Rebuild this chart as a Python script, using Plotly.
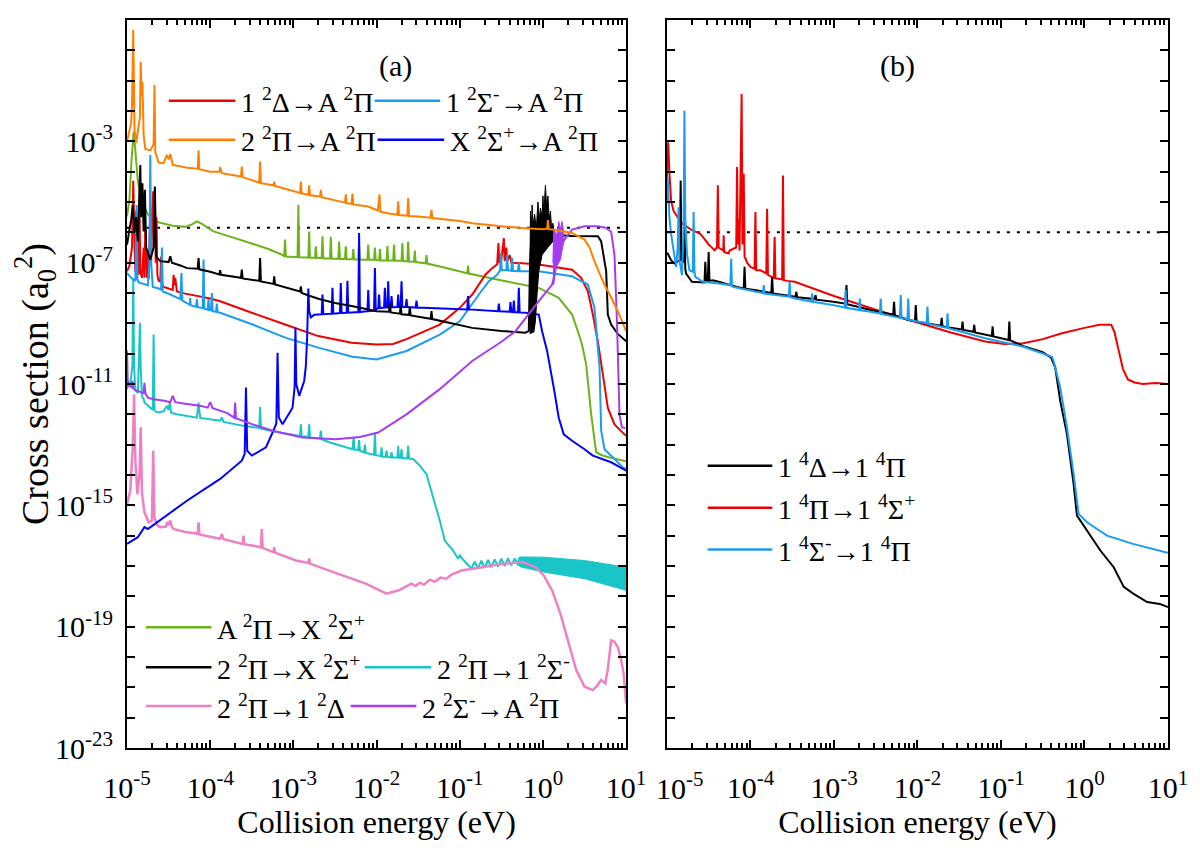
import numpy as np
import plotly.graph_objects as go
from plotly.subplots import make_subplots

# values, stored as (log10 E/eV, log10 sigma/a0^2)

# ---------------- panel (a) ----------------
orange_a = [(-5.0, -3.0), (-4.95, -2.4), (-4.94, -1.8), (-4.925, 0.68), (-4.91, -2.6), (-4.89, -3.05),
            (-4.845, -2.2), (-4.835, -0.38), (-4.825, -1.5), (-4.815, -1.04), (-4.80, -2.8), (-4.78, -3.25),
            (-4.72, -3.3), (-4.68, -3.1), (-4.67, -1.14), (-4.66, -3.35), (-4.62, -3.7), (-4.56, -3.72),
            (-4.52, -3.45), (-4.50, -3.6), (-4.48, -3.42), (-4.45, -3.78), (-4.35, -3.83), (-4.28, -3.87),
            (-4.15, -3.9), (-4.14, -3.3), (-4.13, -3.92), (-4.0, -4.0), (-3.89, -4.0), (-3.88, -3.85),
            (-3.86, -4.05), (-3.63, -4.16), (-3.62, -3.83), (-3.61, -4.18), (-3.41, -4.36), (-3.40, -3.67),
            (-3.39, -4.38), (-3.24, -4.45), (-3.23, -4.33), (-3.22, -4.47), (-2.92, -4.7), (-2.91, -4.33),
            (-2.90, -4.72), (-2.82, -4.76), (-2.81, -4.45), (-2.80, -4.78), (-2.68, -4.82), (-2.67, -4.6),
            (-2.66, -4.84), (-2.38, -5.02), (-2.37, -4.75), (-2.36, -5.04), (-2.30, -5.06), (-2.29, -4.72),
            (-2.28, -5.08), (-2.10, -5.15), (-1.985, -5.28), (-1.965, -4.75), (-1.955, -5.32), (-1.85, -5.38),
            (-1.75, -5.42), (-1.74, -4.98), (-1.73, -5.43), (-1.63, -5.45), (-1.62, -4.87), (-1.61, -5.46),
            (-1.5, -5.48), (-1.35, -5.52), (-1.34, -5.26), (-1.33, -5.53), (-1.0, -5.63), (-0.85, -5.70),
            (-0.5, -5.80), (-0.25, -5.86), (0.0, -5.9), (0.05, -5.88), (0.06, -5.6), (0.07, -5.9),
            (0.12, -5.91), (0.2, -5.95), (0.35, -6.02), (0.5, -6.24), (0.56, -6.5), (0.62, -6.96),
            (0.68, -7.35), (0.74, -7.72), (0.82, -8.15), (0.9, -8.6), (1.0, -9.26)]

green_a = [(-5.0, -5.48), (-4.97, -4.9), (-4.945, -3.6), (-4.92, -2.68), (-4.90, -3.3), (-4.87, -4.3),
           (-4.83, -4.93), (-4.75, -5.4), (-4.67, -5.64), (-4.55, -5.72), (-4.45, -5.78), (-4.30, -5.82),
           (-4.22, -5.74), (-4.16, -5.64), (-4.10, -5.72), (-3.96, -5.97), (-3.75, -6.15), (-3.52, -6.35),
           (-3.3, -6.55), (-3.12, -6.76), (-3.11, -6.8), (-3.10, -6.24), (-3.09, -6.8), (-2.95, -6.82),
           (-2.94, -5.09), (-2.93, -6.82), (-2.82, -6.83), (-2.81, -5.97), (-2.80, -6.84), (-2.74, -6.84),
           (-2.73, -6.46), (-2.72, -6.85), (-2.66, -6.85), (-2.65, -6.13), (-2.64, -6.86), (-2.56, -6.86),
           (-2.55, -6.15), (-2.54, -6.87), (-2.46, -6.87), (-2.45, -6.30), (-2.44, -6.88), (-2.38, -6.88),
           (-2.37, -6.46), (-2.36, -6.89), (-2.29, -6.89), (-2.28, -6.55), (-2.27, -6.89), (-2.22, -6.9),
           (-2.21, -6.35), (-2.20, -6.9), (-2.11, -6.9), (-2.10, -6.4), (-2.09, -6.9), (-2.03, -6.9),
           (-2.02, -6.5), (-2.01, -6.9), (-1.97, -6.92), (-1.96, -6.55), (-1.95, -6.92), (-1.88, -6.93),
           (-1.87, -6.45), (-1.86, -6.93), (-1.80, -6.93), (-1.79, -6.40), (-1.78, -6.94), (-1.70, -6.94),
           (-1.69, -6.35), (-1.68, -6.95), (-1.63, -6.95), (-1.62, -6.3), (-1.61, -6.96), (-1.55, -6.97),
           (-1.54, -6.6), (-1.53, -6.98), (-1.41, -7.02), (-1.40, -6.75), (-1.39, -7.03), (-1.2, -7.15),
           (-0.91, -7.35), (-0.90, -7.1), (-0.89, -7.36), (-0.45, -7.61), (-0.05, -7.83), (0.19, -8.16),
           (0.35, -8.71), (0.42, -9.26), (0.47, -9.7), (0.52, -10.35), (0.58, -12.0), (0.64, -13.25),
           (0.7, -13.34), (0.8, -13.42), (1.0, -13.55)]

black_a = [(-5.0, -6.41), (-4.97, -5.9), (-4.95, -5.6), (-4.93, -5.1), (-4.91, -6.0), (-4.89, -5.5),
           (-4.87, -6.3), (-4.855, -5.0), (-4.84, -3.78), (-4.83, -5.5), (-4.815, -4.38), (-4.80, -5.97),
           (-4.785, -4.6), (-4.77, -6.5), (-4.72, -6.9), (-4.68, -6.5), (-4.665, -4.49), (-4.65, -6.8),
           (-4.60, -6.95), (-4.56, -6.96), (-4.50, -6.98), (-4.48, -6.79), (-4.46, -7.0), (-4.35, -7.1),
           (-4.28, -7.18), (-4.15, -7.2), (-4.14, -6.85), (-4.13, -7.22), (-4.0, -7.3), (-3.89, -7.39),
           (-3.88, -7.25), (-3.87, -7.4), (-3.63, -7.5), (-3.62, -7.23), (-3.61, -7.52), (-3.41, -7.6),
           (-3.40, -6.85), (-3.39, -7.62), (-3.24, -7.7), (-3.23, -7.45), (-3.22, -7.72), (-2.92, -7.95),
           (-2.91, -7.78), (-2.90, -8.0), (-2.8, -8.1), (-2.69, -8.2), (-2.5, -8.33), (-2.3, -8.43),
           (-2.0, -8.6), (-1.85, -8.62), (-1.84, -8.33), (-1.83, -8.64), (-1.72, -8.68), (-1.71, -8.4),
           (-1.70, -8.7), (-1.61, -8.72), (-1.60, -8.45), (-1.59, -8.74), (-1.35, -8.85), (-1.34, -8.6),
           (-1.33, -8.86), (-0.85, -9.15), (-0.5, -9.25), (-0.21, -9.31), (-0.17, -9.25), (-0.155, -7.0),
           (-0.14, -6.2), (0.0, -6.0), (0.12, -6.05), (0.15, -6.09), (0.35, -6.12), (0.66, -6.13),
           (0.70, -6.3), (0.76, -7.28), (0.78, -8.71), (0.82, -9.04), (0.9, -9.35), (1.0, -9.59)]

black_band_a = [(-0.155, -9.35), (-0.155, -7.0), (-0.15, -5.3), (-0.14, -6.0), (-0.13, -5.1), (-0.12, -5.8),
                (-0.10, -5.4), (-0.08, -5.9), (-0.06, -5.0), (-0.045, -5.6), (-0.03, -5.2), (-0.01, -5.5),
                (0.0, -4.8), (0.01, -5.4), (0.03, -4.45), (0.045, -5.2), (0.06, -4.8), (0.075, -5.6),
                (0.09, -5.3), (0.105, -5.9), (0.12, -5.7), (0.135, -6.0), (0.135, -6.25), (0.07, -6.46),
                (-0.01, -6.74), (-0.05, -7.28), (-0.07, -8.0), (-0.09, -8.93), (-0.11, -9.3)]

red_a = [(-5.0, -7.28), (-4.97, -7.1), (-4.94, -6.5), (-4.925, -4.3), (-4.91, -6.4), (-4.90, -7.3),
         (-4.89, -5.3), (-4.88, -7.2), (-4.87, -6.0), (-4.86, -7.4), (-4.85, -5.1), (-4.84, -7.3),
         (-4.82, -7.5), (-4.80, -6.5), (-4.79, -7.5), (-4.78, -5.8), (-4.76, -7.5), (-4.75, -6.6),
         (-4.74, -7.55), (-4.72, -5.2), (-4.71, -7.0), (-4.70, -5.6), (-4.685, -4.65), (-4.675, -6.5),
         (-4.665, -4.6), (-4.655, -7.0), (-4.645, -5.5), (-4.635, -7.4), (-4.62, -7.6), (-4.60, -7.62),
         (-4.59, -6.8), (-4.58, -7.7), (-4.56, -7.8), (-4.50, -7.85), (-4.45, -7.9), (-4.44, -7.4),
         (-4.43, -7.75), (-4.42, -7.5), (-4.40, -7.95), (-4.30, -8.02), (-4.0, -8.18), (-3.88, -8.27),
         (-3.5, -8.65), (-3.1, -9.04), (-2.7, -9.42), (-2.3, -9.64), (-2.0, -9.70), (-1.8, -9.68),
         (-1.64, -9.52), (-1.24, -9.04), (-1.0, -8.49), (-0.85, -8.05), (-0.69, -7.39), (-0.61, -7.18),
         (-0.55, -7.05), (-0.535, -6.35), (-0.525, -7.0), (-0.50, -6.9), (-0.47, -6.19), (-0.46, -6.95),
         (-0.44, -6.5), (-0.43, -6.95), (-0.40, -6.75), (-0.38, -7.0), (-0.29, -7.01), (-0.05, -7.06),
         (0.35, -7.23), (0.46, -7.5), (0.54, -7.94), (0.60, -8.71), (0.66, -9.6), (0.72, -10.68),
         (0.78, -11.78), (0.86, -12.33), (0.98, -12.66), (1.0, -12.7)]

ltblue_a = [(-5.0, -7.34), (-4.95, -7.5), (-4.90, -7.6), (-4.885, -5.1), (-4.875, -7.55), (-4.86, -7.65),
            (-4.80, -7.7), (-4.75, -7.75), (-4.73, -7.0), (-4.72, -3.45), (-4.71, -7.0), (-4.69, -7.8),
            (-4.62, -7.85), (-4.59, -7.9), (-4.58, -6.5), (-4.57, -7.95), (-4.48, -8.05), (-4.36, -8.2),
            (-4.345, -7.34), (-4.335, -8.25), (-4.28, -8.33), (-4.245, -8.38), (-4.24, -8.16), (-4.235, -8.4),
            (-4.17, -8.45), (-4.16, -8.2), (-4.15, -8.47), (-4.09, -8.5), (-4.08, -6.9), (-4.07, -8.52),
            (-4.03, -8.55), (-4.02, -8.2), (-4.01, -8.56), (-3.99, -8.57), (-3.98, -8.0), (-3.97, -8.6),
            (-3.93, -8.62), (-3.92, -8.35), (-3.91, -8.63), (-3.88, -8.65), (-3.49, -9.04), (-3.09, -9.48),
            (-2.69, -9.81), (-2.29, -10.1), (-2.0, -10.19), (-1.64, -9.91), (-1.24, -9.37), (-1.0, -8.93),
            (-0.77, -8.05), (-0.65, -7.61), (-0.55, -7.4), (-0.515, -7.25), (-0.505, -6.68), (-0.495, -7.25),
            (-0.44, -7.25), (-0.43, -6.74), (-0.42, -7.25), (-0.38, -7.27), (-0.37, -6.85), (-0.36, -7.27),
            (-0.30, -7.28), (-0.29, -7.0), (-0.28, -7.28), (-0.05, -7.28), (0.35, -7.45), (0.54, -7.72),
            (0.62, -8.49), (0.66, -9.8), (0.68, -10.4), (0.70, -12.54), (0.74, -13.15), (0.86, -13.47),
            (0.96, -13.75), (1.0, -13.8)]

blue_a = [(-5.0, -16.27), (-4.87, -16.05), (-4.79, -15.72), (-4.75, -15.78), (-4.28, -14.85), (-3.88, -14.13),
          (-3.62, -13.53), (-3.585, -13.3), (-3.57, -11.12), (-3.555, -13.2), (-3.50, -13.36), (-3.33, -13.09),
          (-3.25, -12.6), (-3.205, -12.3), (-3.19, -9.97), (-3.175, -12.1), (-3.13, -12.33), (-3.01, -11.78),
          (-2.985, -11.1), (-2.975, -9.15), (-2.965, -11.0), (-2.93, -11.39), (-2.87, -10.9), (-2.85, -10.4),
          (-2.835, -9.5), (-2.82, -7.85), (-2.81, -8.6), (-2.79, -8.8), (-2.75, -8.72), (-2.66, -8.7),
          (-2.65, -8.05), (-2.64, -8.7), (-2.54, -8.68), (-2.53, -7.83), (-2.52, -8.68), (-2.44, -8.66),
          (-2.43, -7.67), (-2.42, -8.66), (-2.36, -8.65), (-2.35, -7.6), (-2.34, -8.65), (-2.22, -8.63),
          (-2.21, -6.02), (-2.20, -8.63), (-2.11, -8.6), (-2.10, -7.9), (-2.09, -8.6), (-2.03, -8.58),
          (-2.02, -7.18), (-2.01, -8.55), (-1.98, -8.5), (-1.97, -8.05), (-1.96, -8.5), (-1.91, -8.48),
          (-1.90, -7.83), (-1.89, -8.48), (-1.87, -8.48), (-1.86, -7.61), (-1.85, -8.47), (-1.83, -8.47),
          (-1.82, -8.1), (-1.81, -8.47), (-1.75, -8.46), (-1.74, -8.05), (-1.73, -8.46), (-1.71, -8.46),
          (-1.70, -7.61), (-1.69, -8.46), (-1.65, -8.46), (-1.64, -8.2), (-1.63, -8.46), (-1.53, -8.48),
          (-1.52, -8.25), (-1.51, -8.48), (-0.91, -8.54), (-0.90, -8.10), (-0.89, -8.54), (-0.54, -8.6),
          (-0.53, -8.35), (-0.52, -8.6), (-0.40, -8.62), (-0.39, -8.3), (-0.38, -8.62), (-0.36, -8.63),
          (-0.35, -8.25), (-0.34, -8.63), (-0.30, -8.64), (-0.29, -7.83), (-0.28, -8.64), (-0.21, -8.65),
          (-0.05, -8.71), (-0.01, -9.26), (0.05, -9.91), (0.13, -11.12), (0.19, -12.11), (0.25, -12.66),
          (0.35, -12.87), (0.50, -13.15), (0.60, -13.36), (0.82, -13.58), (1.0, -13.86)]

purple_a = [(-5.0, -9.9), (-4.995, -10.5), (-4.99, -11.06), (-4.95, -11.1), (-4.935, -10.9), (-4.925, -11.15),
            (-4.9, -11.2), (-4.85, -11.25), (-4.80, -11.3), (-4.79, -10.96), (-4.78, -11.3), (-4.75, -11.45),
            (-4.68, -11.5), (-4.55, -11.55), (-4.48, -11.6), (-4.45, -11.39), (-4.42, -11.6), (-4.3, -11.65),
            (-4.12, -11.72), (-4.03, -11.78), (-4.0, -11.6), (-3.97, -11.8), (-3.8, -11.95), (-3.71, -12.11),
            (-3.70, -11.61), (-3.69, -12.13), (-3.49, -12.33), (-3.25, -12.54), (-2.89, -12.76), (-2.49, -12.82),
            (-2.2, -12.75), (-1.98, -12.6), (-1.64, -12.0), (-1.24, -11.17), (-0.85, -10.24), (-0.49, -9.59),
            (-0.33, -9.26), (-0.05, -8.27), (0.11, -7.72), (0.13, -7.5), (0.17, -6.8), (0.22, -6.4),
            (0.27, -6.2), (0.35, -5.91), (0.50, -5.80), (0.66, -5.80), (0.75, -5.85), (0.82, -5.98),
            (0.86, -6.74), (0.89, -8.93), (0.92, -12.0), (0.95, -12.43), (0.99, -12.45)]

purple_band_a = [(0.12, -7.0), (0.13, -5.9), (0.15, -6.0), (0.17, -6.1), (0.19, -5.64), (0.21, -5.9),
                 (0.23, -5.64), (0.25, -6.0), (0.25, -6.3), (0.23, -6.6), (0.21, -6.9), (0.19, -7.0),
                 (0.17, -7.1), (0.15, -7.3), (0.13, -7.72), (0.12, -7.7)]

teal_a = [(-5.0, -11.17), (-4.99, -10.9), (-4.96, -11.0), (-4.935, -10.4), (-4.925, -7.55), (-4.915, -10.4),
          (-4.90, -11.2), (-4.87, -11.3), (-4.855, -10.0), (-4.845, -8.98), (-4.835, -10.5), (-4.82, -11.4),
          (-4.80, -11.5), (-4.79, -11.61), (-4.70, -11.83), (-4.69, -11.85), (-4.68, -9.37), (-4.67, -11.88),
          (-4.63, -11.94), (-4.56, -11.9), (-4.52, -11.72), (-4.50, -11.85), (-4.485, -11.61), (-4.47, -11.95),
          (-4.40, -12.0), (-4.16, -12.11), (-4.14, -11.61), (-4.12, -12.12), (-3.88, -12.21), (-3.86, -12.1),
          (-3.84, -12.25), (-3.60, -12.38), (-3.41, -12.45), (-3.40, -11.76), (-3.39, -12.47), (-3.17, -12.60),
          (-2.92, -12.71), (-2.91, -12.33), (-2.90, -12.72), (-2.82, -12.74), (-2.81, -12.33), (-2.80, -12.76),
          (-2.68, -12.8), (-2.67, -12.54), (-2.66, -12.82), (-2.57, -12.92), (-2.29, -13.15), (-2.275, -12.74),
          (-2.265, -13.16), (-2.22, -13.17), (-2.21, -12.85), (-2.20, -13.2), (-2.15, -13.25), (-2.14, -13.0),
          (-2.13, -13.27), (-2.03, -13.33), (-2.02, -12.6), (-2.01, -13.35), (-1.95, -13.38), (-1.94, -13.09),
          (-1.93, -13.4), (-1.89, -13.4), (-1.88, -13.2), (-1.87, -13.41), (-1.83, -13.42), (-1.82, -13.25),
          (-1.81, -13.42), (-1.75, -13.42), (-1.74, -13.04), (-1.73, -13.43), (-1.71, -13.43), (-1.70, -13.15),
          (-1.69, -13.44), (-1.63, -13.45), (-1.62, -13.04), (-1.61, -13.46), (-1.56, -13.47), (-1.48, -13.69),
          (-1.40, -13.97), (-1.32, -14.74), (-1.24, -15.50), (-1.18, -16.16), (-1.08, -16.49), (-1.02, -16.76),
          (-1.0, -16.65), (-0.95, -16.82), (-0.86, -17.08), (-0.82, -16.86), (-0.78, -17.08), (-0.74, -16.82),
          (-0.70, -17.06), (-0.66, -16.8), (-0.62, -17.04), (-0.58, -16.78), (-0.54, -17.02), (-0.50, -16.76),
          (-0.46, -17.0), (-0.42, -16.75), (-0.38, -16.98), (-0.34, -16.75), (-0.30, -16.96), (0.0, -16.95),
          (0.5, -17.1), (1.0, -17.4)]

teal_band_a = [(-0.32, -16.9), (-0.28, -16.7), (0.01, -16.71), (0.5, -16.82), (1.0, -17.04), (1.0, -17.8),
               (0.5, -17.42), (0.01, -17.2), (-0.28, -17.02)]

pink_a = [(-5.0, -14.96), (-4.96, -14.5), (-4.93, -13.0), (-4.915, -11.34), (-4.90, -13.5), (-4.875, -14.63),
          (-4.85, -14.0), (-4.835, -12.43), (-4.82, -14.6), (-4.79, -15.23), (-4.74, -15.56), (-4.70, -15.5),
          (-4.685, -13.2), (-4.67, -15.4), (-4.64, -15.65), (-4.60, -15.72), (-4.53, -15.7), (-4.52, -15.55),
          (-4.50, -15.65), (-4.48, -15.50), (-4.46, -15.72), (-4.44, -15.78), (-4.30, -15.88), (-4.15, -15.94),
          (-4.14, -15.56), (-4.13, -15.96), (-3.88, -16.10), (-3.86, -15.95), (-3.84, -16.12), (-3.61, -16.27),
          (-3.60, -16.0), (-3.59, -16.28), (-3.39, -16.38), (-3.38, -15.78), (-3.37, -16.4), (-3.24, -16.54),
          (-3.23, -16.38), (-3.22, -16.56), (-2.97, -16.82), (-2.82, -16.9), (-2.81, -16.75), (-2.80, -16.92),
          (-2.47, -17.25), (-2.13, -17.58), (-1.88, -17.91), (-1.80, -17.85), (-1.73, -17.80), (-1.66, -17.7),
          (-1.58, -17.58), (-1.53, -17.66), (-1.48, -17.55), (-1.43, -17.62), (-1.36, -17.45), (-1.30, -17.52),
          (-1.23, -17.38), (-1.16, -17.42), (-1.10, -17.28), (-0.98, -17.15), (-0.73, -17.04), (-0.49, -16.93),
          (-0.24, -16.87), (-0.09, -17.04), (0.01, -17.31), (0.11, -17.80), (0.21, -18.57), (0.30, -19.45),
          (0.40, -20.43), (0.50, -20.98), (0.60, -21.09), (0.65, -20.95), (0.70, -20.76), (0.75, -20.87),
          (0.78, -20.4), (0.82, -19.45), (0.86, -19.5), (0.90, -19.67), (0.94, -20.1), (0.97, -20.54),
          (1.0, -21.53)]

dotted_a = [(-5.0, -5.85), (1.0, -5.85)]

# ---------------- panel (b) ----------------
red_b = [(-5.0, -4.2), (-4.985, -3.03), (-4.97, -4.0), (-4.95, -4.95), (-4.92, -5.3), (-4.87, -5.5),
         (-4.82, -5.7), (-4.70, -5.93), (-4.60, -6.05), (-4.57, -6.15), (-4.50, -6.4), (-4.47, -6.48),
         (-4.43, -6.59), (-4.40, -6.5), (-4.39, -4.45), (-4.38, -6.5), (-4.36, -6.54), (-4.325, -6.6),
         (-4.32, -6.1), (-4.315, -6.65), (-4.26, -6.70), (-4.25, -6.6), (-4.17, -6.5), (-4.16, -3.85),
         (-4.15, -6.4), (-4.14, -5.55), (-4.13, -6.6), (-4.105, -1.44), (-4.095, -6.4), (-4.08, -4.07),
         (-4.07, -6.8), (-4.05, -6.92), (-4.04, -7.0), (-4.0, -7.14), (-3.95, -7.2), (-3.94, -5.33),
         (-3.93, -7.25), (-3.88, -7.25), (-3.81, -7.35), (-3.80, -5.22), (-3.79, -7.4), (-3.75, -7.47),
         (-3.72, -7.5), (-3.71, -6.15), (-3.70, -7.52), (-3.62, -7.55), (-3.61, -4.13), (-3.60, -7.58),
         (-3.56, -7.6), (-3.47, -7.63), (-3.0, -8.1), (-2.5, -8.55), (-2.10, -8.89), (-1.6, -9.3),
         (-1.19, -9.6), (-0.96, -9.68), (-0.73, -9.66), (-0.5, -9.52), (-0.27, -9.33), (0.0, -9.15),
         (0.18, -9.05), (0.32, -9.05), (0.36, -9.3), (0.41, -9.9), (0.46, -10.5), (0.52, -10.85),
         (0.6, -10.95), (0.7, -11.0), (0.85, -10.97), (1.0, -11.0)]

black_b = [(-5.0, -6.7), (-4.99, -6.70), (-4.95, -6.92), (-4.91, -7.03), (-4.845, -6.92), (-4.835, -4.29),
           (-4.825, -6.9), (-4.80, -7.0), (-4.79, -5.39), (-4.78, -7.2), (-4.77, -7.36), (-4.70, -7.63),
           (-4.55, -7.65), (-4.54, -6.97), (-4.53, -7.62), (-4.51, -7.6), (-4.50, -6.65), (-4.49, -7.6),
           (-4.45, -7.58), (-4.38, -7.63), (-4.16, -7.80), (-4.08, -7.85), (-4.07, -7.14), (-4.06, -7.86),
           (-3.93, -7.91), (-3.75, -8.0), (-3.74, -7.47), (-3.73, -8.02), (-3.46, -8.12), (-3.45, -7.96),
           (-3.44, -8.14), (-3.23, -8.2), (-3.22, -8.07), (-3.21, -8.22), (-3.01, -8.29), (-2.86, -8.35),
           (-2.85, -7.74), (-2.84, -8.37), (-2.56, -8.56), (-2.29, -8.72), (-2.28, -8.29), (-2.27, -8.74),
           (-2.10, -8.9), (-2.03, -8.92), (-2.02, -8.40), (-2.01, -8.94), (-1.72, -9.08), (-1.71, -8.82),
           (-1.70, -9.1), (-1.47, -9.2), (-1.46, -8.94), (-1.45, -9.22), (-1.33, -9.28), (-1.32, -9.05),
           (-1.31, -9.3), (-1.11, -9.42), (-1.10, -9.1), (-1.09, -9.43), (-0.91, -9.55), (-0.90, -8.94),
           (-0.89, -9.56), (-0.73, -9.75), (-0.5, -9.95), (-0.40, -10.13), (-0.35, -10.46), (-0.29, -11.56),
           (-0.21, -12.65), (-0.13, -14.3), (-0.09, -15.34), (0.03, -15.83), (0.19, -16.49), (0.35, -17.04),
           (0.47, -17.69), (0.58, -17.9), (0.75, -18.19), (0.90, -18.25), (1.0, -18.35)]

ltblue_b = [(-5.0, -5.0), (-4.99, -4.18), (-4.97, -5.5), (-4.95, -6.04), (-4.89, -7.14), (-4.87, -6.5),
            (-4.86, -5.17), (-4.85, -6.9), (-4.82, -7.41), (-4.80, -6.0), (-4.79, -1.99), (-4.78, -5.5),
            (-4.76, -6.70), (-4.73, -7.25), (-4.69, -7.3), (-4.68, -5.33), (-4.67, -7.3), (-4.66, -7.47),
            (-4.57, -7.63), (-4.38, -7.69), (-4.24, -7.74), (-4.23, -6.86), (-4.22, -7.78), (-4.20, -7.80),
            (-3.93, -7.96), (-3.85, -8.0), (-3.84, -7.74), (-3.83, -8.02), (-3.54, -8.12), (-3.53, -7.63),
            (-3.52, -8.14), (-3.47, -8.18), (-3.27, -8.28), (-3.26, -8.01), (-3.25, -8.29), (-3.01, -8.40),
            (-2.87, -8.48), (-2.86, -7.90), (-2.85, -8.49), (-2.70, -8.56), (-2.69, -8.18), (-2.68, -8.57),
            (-2.56, -8.62), (-2.45, -8.68), (-2.44, -8.18), (-2.43, -8.69), (-2.21, -8.82), (-2.20, -8.07),
            (-2.19, -8.83), (-2.12, -8.86), (-2.11, -8.18), (-2.10, -8.89), (-1.89, -9.0), (-1.88, -8.45),
            (-1.87, -9.01), (-1.65, -9.15), (-1.64, -8.67), (-1.63, -9.16), (-1.19, -9.49), (-0.73, -9.77),
            (-0.39, -10.10), (-0.37, -10.24), (-0.29, -11.12), (-0.21, -12.43), (-0.13, -13.97), (-0.07, -15.28),
            (0.03, -15.56), (0.27, -16.0), (0.58, -16.27), (0.96, -16.54), (1.0, -16.56)]

dotted_b = [(-5.0, -6.0), (1.0, -6.0)]

# tick labels
x_exps = list(range(-5, 2))
y_exps = list(range(-23, 2))
x_labels = ["10<sup>%d</sup>" % e for e in x_exps]
# the first label of panel (b) is set as a separate text just right of its tick,
# so that it clears the "10^1" of panel (a), as in the original
x_labels_b = [""] + x_labels[1:]
y_labels = ["10<sup>%d</sup>" % e if (1 - e) % 4 == 0 else "" for e in y_exps]

RED, LTBLUE, ORANGE, BLUE = "#f00000", "#1c9cf0", "#ff8000", "#0000ff"
GREEN, BLACK, TEAL, PINK, PURPLE = "#6db41c", "#000000", "#19c5c8", "#ee80c4", "#a33cf2"
FONT = "Liberation Serif"


def xy(pairs):
    lx, ly = zip(*pairs)
    return 10.0 ** np.array(lx), 10.0 ** np.array(ly)


fig = make_subplots(rows=1, cols=2)


def add_line(pairs, color, col, width=2.0, dash=None):
    x, y = xy(pairs)
    fig.add_trace(go.Scatter(x=x, y=y, mode="lines", showlegend=False, hoverinfo="skip",
                             line=dict(color=color, width=width, dash=dash, simplify=False)),
                  row=1, col=col)


def add_band(pairs, color, col):
    x, y = xy(pairs)
    fig.add_trace(go.Scatter(x=x, y=y, mode="lines", fill="toself", fillcolor=color, showlegend=False,
                             hoverinfo="skip", line=dict(color=color, width=1, simplify=False)),
                  row=1, col=col)


# panel (a)
add_line(dotted_a, BLACK, 1, width=2, dash="3px,7px")
add_band(teal_band_a, TEAL, 1)
add_line(teal_a, TEAL, 1)
add_line(pink_a, PINK, 1, width=2.5)
add_line(green_a, GREEN, 1)
add_line(red_a, RED, 1)
add_line(ltblue_a, LTBLUE, 1)
add_line(blue_a, BLUE, 1)
add_band(black_band_a, BLACK, 1)
add_line(black_a, BLACK, 1)
add_band(purple_band_a, PURPLE, 1)
add_line(purple_a, PURPLE, 1)
add_line(orange_a, ORANGE, 1)

# panel (b)
add_line(dotted_b, BLACK, 2, width=2, dash="3px,7px")
add_line(red_b, RED, 2)
add_line(black_b, BLACK, 2)
add_line(ltblue_b, LTBLUE, 2)

# target pixel box of the plot area on the 1200x848 page; the page body
# adds an 8 px margin, so the figure itself is made 8 px smaller
L, R, T, B = 121, 1168, 18, 748
OFF = 8
W, H = 1200 - OFF, 848 - OFF


def px(x):
    return (x - L) / (R - L)


def py(y):
    return (B - y) / (B - T)


axis_style = dict(showline=True, linewidth=2, linecolor="black", mirror="allticks", ticks="inside",
                  ticklen=8, tickwidth=2, tickcolor="black", showgrid=False, zeroline=False,
                  tickfont=dict(family=FONT, size=30, color="black"))

minor_x = [k * 10.0 ** d for d in range(-5, 1) for k in range(2, 10)]
x_style = dict(axis_style, type="log", range=[-5, 1], tickmode="array",
               tickvals=[10.0 ** e for e in x_exps], ticktext=x_labels,
               ticklabelstandoff=12,
               minor=dict(ticks="inside", ticklen=5, tickwidth=1.5, tickcolor="black",
                          tickmode="array", tickvals=minor_x, showgrid=False),
               title=dict(text="Collision energy (eV)", font=dict(family=FONT, size=32), standoff=4))
y_style = dict(axis_style, type="log", range=[-23, 1], tickmode="array",
               tickvals=[10.0 ** e for e in y_exps], ticktext=y_labels,
               ticklabelstandoff=6)

fig.update_xaxes(x_style)
fig.update_yaxes(y_style)
fig.update_layout(
    xaxis=dict(domain=[0, px(623)]),
    xaxis2=dict(domain=[px(664), 1], ticktext=x_labels_b),
    yaxis=dict(title=dict(text="Cross section (a<sub>0</sub><sup>2</sup>)",
                          font=dict(family=FONT, size=38), standoff=10)),
    yaxis2=dict(showticklabels=False),
    width=W, height=H,
    margin=dict(l=L - OFF, r=W - (R - OFF), t=T - OFF, b=H - (B - OFF)),
    paper_bgcolor="white", plot_bgcolor="white",
    font=dict(family=FONT, size=28, color="black"),
    showlegend=False,
)

fig.add_annotation(xref="paper", yref="paper", x=px(652), y=py(786), text=x_labels[0], showarrow=False,
                   xanchor="left", yanchor="middle", borderpad=0,
                   font=dict(family=FONT, size=30, color="black"))

# hand-drawn keys, as in the original figure
keys = [
    (163, 230, 99, RED, "1 <sup>2</sup>Δ→A <sup>2</sup>Π"),
    (370, 436, 99, LTBLUE, "1 <sup>2</sup>Σ<sup>-</sup>→A <sup>2</sup>Π"),
    (163, 230, 138, ORANGE, "2 <sup>2</sup>Π→A <sup>2</sup>Π"),
    (373, 440, 138, BLUE, "X <sup>2</sup>Σ<sup>+</sup>→A <sup>2</sup>Π"),
    (140, 206, 627, GREEN, "A <sup>2</sup>Π→X <sup>2</sup>Σ<sup>+</sup>"),
    (140, 206, 667, BLACK, "2 <sup>2</sup>Π→X <sup>2</sup>Σ<sup>+</sup>"),
    (360, 427, 667, TEAL, "2 <sup>2</sup>Π→1 <sup>2</sup>Σ<sup>-</sup>"),
    (140, 206, 706, PINK, "2 <sup>2</sup>Π→1 <sup>2</sup>Δ"),
    (346, 412, 706, PURPLE, "2 <sup>2</sup>Σ<sup>-</sup>→A <sup>2</sup>Π"),
    (705, 770, 465, BLACK, "1 <sup>4</sup>Δ→1 <sup>4</sup>Π"),
    (705, 770, 507, RED, "1 <sup>4</sup>Π→1 <sup>4</sup>Σ<sup>+</sup>"),
    (705, 770, 549, LTBLUE, "1 <sup>4</sup>Σ<sup>-</sup>→1 <sup>4</sup>Π"),
]
for x0, x1, yk, color, label in keys:
    fig.add_shape(type="line", xref="paper", yref="paper", x0=px(x0), x1=px(x1), y0=py(yk), y1=py(yk),
                  line=dict(color=color, width=2.5))
    fig.add_annotation(xref="paper", yref="paper", x=px(x1 + 4), y=py(yk), text=label, showarrow=False,
                       xanchor="left", yanchor="middle", font=dict(family=FONT, size=28, color="black"))

fig.add_annotation(xref="paper", yref="paper", x=px(372), y=py(45), text="(a)", showarrow=False,
                   font=dict(family=FONT, size=30, color="black"))
fig.add_annotation(xref="paper", yref="paper", x=px(916), y=py(45), text="(b)", showarrow=False,
                   font=dict(family=FONT, size=30, color="black"))

fig.write_html("out.html")
